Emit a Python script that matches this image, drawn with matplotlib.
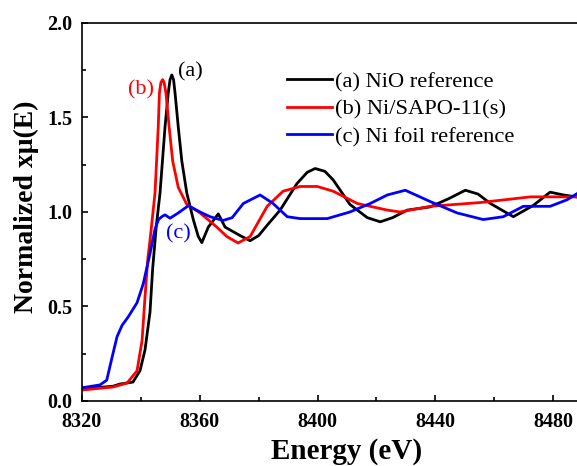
import matplotlib
matplotlib.use("Agg")
import matplotlib.pyplot as plt
from matplotlib.ticker import MultipleLocator, FormatStrFormatter

plt.rcParams['font.family'] = ['Liberation Serif', 'DejaVu Serif']

# (a) NiO reference
energy_a = [8320, 8326, 8330.5, 8333, 8337.3, 8339.7, 8341.4, 8343.1, 8344.0, 8345.2,
            8346.5, 8348.2, 8349.3, 8349.9, 8350.5, 8351.1, 8351.6, 8352.7, 8353.9,
            8355.6, 8357.8, 8359.5, 8360.7, 8362.9, 8366.3, 8368.6, 8370.3, 8373.7,
            8377.1, 8380, 8382.9, 8387.3, 8393, 8396.5, 8399.2, 8402.5, 8405.3,
            8411, 8416.9, 8421.3, 8425.5, 8430.5, 8438.3, 8444.5, 8450.2, 8454.5,
            8458.7, 8466.5, 8473.3, 8479, 8483.5, 8490]
mu_a = [0.068, 0.072, 0.078, 0.09, 0.10, 0.16, 0.27, 0.47, 0.70, 0.92,
        1.10, 1.45, 1.63, 1.70, 1.725, 1.70, 1.63, 1.45, 1.27,
        1.10, 0.96, 0.87, 0.838, 0.92, 0.99, 0.92, 0.905, 0.875,
        0.848, 0.875, 0.93, 1.01, 1.15, 1.21, 1.23, 1.215, 1.17,
        1.04, 0.97, 0.948, 0.97, 1.01, 1.027, 1.07, 1.115, 1.095,
        1.045, 0.975, 1.035, 1.105, 1.09, 1.075]

# (b) Ni/SAPO-11(s)
energy_b = [8320, 8330.5, 8335.3, 8338.7, 8340.4, 8341.4, 8342.4, 8343.1, 8344.8,
            8345.9, 8346.3, 8346.8, 8347.4, 8347.9, 8348.5, 8349.6, 8350.8, 8352.7,
            8355.6, 8360.1, 8365.8, 8369.2, 8373, 8377.1, 8382.9, 8388.3, 8394.1,
            8399.9, 8405.3, 8413.5, 8423.7, 8428, 8438.3, 8455.3, 8472.3, 8490]
mu_b = [0.058, 0.074, 0.095, 0.16, 0.32, 0.55, 0.76, 0.85, 1.10,
        1.45, 1.63, 1.685, 1.70, 1.685, 1.63, 1.45, 1.27, 1.13,
        1.04, 0.995, 0.92, 0.87, 0.836, 0.87, 1.03, 1.11, 1.135,
        1.135, 1.11, 1.045, 1.01, 1.0, 1.03, 1.05, 1.08, 1.08]

# (c) Ni foil reference
energy_c = [8320, 8326.1, 8328.4, 8330.2, 8331.9, 8333.6, 8335.7, 8338.7, 8340.8,
            8343.1, 8344.8, 8346.0, 8347.1, 8348.2, 8349.9, 8352.7, 8356.1, 8360.1,
            8363.5, 8367.9, 8371, 8374.8, 8380.5, 8384.9, 8389.7, 8394.1, 8403.3,
            8411, 8417.9, 8423.7, 8429.8, 8438.3, 8447.4, 8456.3, 8463.1, 8469.9,
            8479, 8484.8, 8490]
mu_c = [0.07, 0.085, 0.11, 0.23, 0.34, 0.40, 0.445, 0.52, 0.62,
        0.78, 0.91, 0.96, 0.975, 0.985, 0.967, 0.995, 1.033, 1.0,
        0.975, 0.955, 0.97, 1.045, 1.09, 1.045, 0.975, 0.965, 0.965,
        1.0, 1.045, 1.09, 1.115, 1.055, 0.995, 0.96, 0.975, 1.03,
        1.03, 1.065, 1.115]

fig = plt.figure(figsize=(5.77, 4.66), dpi=100)
# axes run past the right edge of the figure (the original is cropped)
ax = fig.add_axes([0.1421, 0.1395, 0.9185, 0.8112])

ax.plot(energy_a, mu_a, color='black', lw=2.0, label='(a) NiO reference')
ax.plot(energy_b, mu_b, color='red', lw=2.0, label='(b) Ni/SAPO-11(s)')
ax.plot(energy_c, mu_c, color='blue', lw=2.0, label='(c) Ni foil reference')

ax.text(8356.7, 1.74, '(a)', color='black', fontsize=16, ha='center', va='center')
ax.text(8340.0, 1.645, '(b)', color='red', fontsize=16, ha='center', va='center')
ax.text(8352.6, 0.884, '(c)', color='blue', fontsize=16, ha='center', va='center')

ax.set_xlim(8320, 8500)
ax.set_ylim(0, 2.0)
ax.xaxis.set_major_locator(MultipleLocator(40))
ax.xaxis.set_minor_locator(MultipleLocator(20))
ax.yaxis.set_major_locator(MultipleLocator(0.5))
ax.yaxis.set_minor_locator(MultipleLocator(0.25))
ax.yaxis.set_major_formatter(FormatStrFormatter('%.1f'))
ax.tick_params(which='both', direction='in', top=False, right=False, width=1.2)
ax.tick_params(which='major', length=4.5, labelsize=14.5)
ax.tick_params(axis='x', which='major', pad=8)
ax.tick_params(axis='y', which='major', pad=7)
ax.tick_params(which='minor', length=3)
for lab in ax.get_xticklabels() + ax.get_yticklabels():
    lab.set_fontweight('bold')
for sp in ax.spines.values():
    sp.set_linewidth(1.2)

ax.set_xlabel('Energy (eV)', fontsize=21, fontweight='bold', labelpad=4)
ax.set_ylabel('Normalized x\u03bc(E)', fontsize=20, fontweight='bold', labelpad=5)
ax.yaxis.set_label_coords(-0.081, 0.515)

ax.legend(loc='upper left', bbox_to_anchor=(0.387, 0.872), frameon=False,
          fontsize=16.2, handlelength=2.0, handletextpad=0.15, labelspacing=0.3,
          borderpad=0, borderaxespad=0)

fig.savefig('out.png', dpi=100)
